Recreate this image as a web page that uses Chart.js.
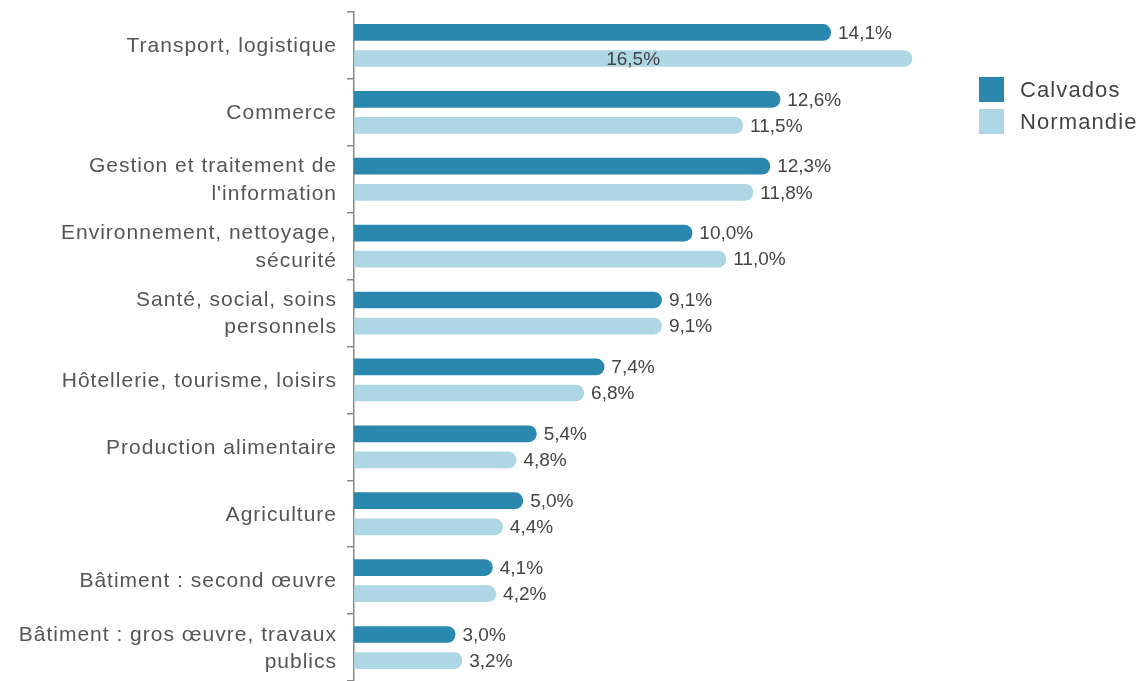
<!DOCTYPE html>
<html>
<head>
<meta charset="utf-8">
<script src="https://cdn.jsdelivr.net/npm/chart.js@4"></script>
<style>
  html, body { margin: 0; padding: 0; background: #fff; }
  #wrap { position: relative; width: 1141px; height: 681px; overflow: hidden; }
  #chart { position: absolute; left: 0; top: 0; }
  .legend { position: absolute; left: 979px; top: 77px; font: 22px "Liberation Sans", Arial, sans-serif; color: #444; letter-spacing: 1.1px; }
  .legend div { position: relative; height: 32px; line-height: 25px; padding-left: 41px; }
  .legend span { position: absolute; left: 0; top: 0; width: 25px; height: 25px; }
</style>
</head>
<body>
<div id="wrap">
  <canvas id="chart" width="1141" height="681"></canvas>
  <div class="legend" id="legend"></div>
</div>
<script>
const categories = [
  "Transport, logistique",
  "Commerce",
  [ "Gestion et traitement de", "l'information" ],
  [ "Environnement, nettoyage,", "sécurité" ],
  [ "Santé, social, soins", "personnels" ],
  "Hôtellerie, tourisme, loisirs",
  "Production alimentaire",
  "Agriculture",
  "Bâtiment : second œuvre",
  [ "Bâtiment : gros œuvre, travaux", "publics" ]
];
const calvados = [ 14.1, 12.6, 12.3, 10.0, 9.1, 7.4, 5.4, 5.0, 4.1, 3.0 ];
const normandie = [ 16.5, 11.5, 11.8, 11.0, 9.1, 6.8, 4.8, 4.4, 4.2, 3.2 ];
const seriesNames = [ "Calvados", "Normandie" ];
const seriesColors = [ "#2a87ad", "#afd6e5" ];

Chart.defaults.font.family = "'Liberation Sans', Arial, sans-serif";

// letter spacing for the axis labels (canvas state is reset on resize, so set it again before each pass)
let spacing = {
  id: "spacing",
  beforeUpdate: ( chart ) => { chart.ctx.letterSpacing = "1px"; },
  beforeDraw: ( chart ) => { chart.ctx.letterSpacing = "1px"; }
};

// percentage labels at the end of each bar, or centred inside when there is no room
let valueLabels = {
  id: "valueLabels",
  afterDatasetsDraw: ( chart ) => {
    let ctx = chart.ctx;
    ctx.save();
    ctx.letterSpacing = "0px";
    ctx.font = "19px 'Liberation Sans', Arial, sans-serif";
    ctx.fillStyle = "#444";
    ctx.textBaseline = "middle";
    chart.data.datasets.forEach( ( dataset, i ) => {
      chart.getDatasetMeta( i ).data.forEach( ( bar, j ) => {
        let text = dataset.data[ j ].toFixed( 1 ).replace( ".", "," ) + "%";
        let width = ctx.measureText( text ).width;
        if ( bar.x + 7 + width > chart.chartArea.right ) {
          ctx.textAlign = "center";
          ctx.fillText( text, ( bar.base + bar.x ) / 2, bar.y + 1 );
        } else {
          ctx.textAlign = "left";
          ctx.fillText( text, bar.x + 7, bar.y + 1 );
        }
      } );
    } );
    ctx.restore();
  }
};

new Chart( document.getElementById( "chart" ), {
  type: "bar",
  data: {
    labels: categories,
    datasets: [
      { label: seriesNames[ 0 ], data: calvados, backgroundColor: seriesColors[ 0 ] },
      { label: seriesNames[ 1 ], data: normandie, backgroundColor: seriesColors[ 1 ] }
    ]
  },
  options: {
    indexAxis: "y",
    responsive: false,
    animation: false,
    layout: { padding: { top: 12, right: 178, bottom: 0, left: 0 } },
    datasets: {
      bar: {
        categoryPercentage: 0.78,
        barPercentage: 0.64,
        borderRadius: 8,
        borderSkipped: "start"
      }
    },
    plugins: {
      legend: { display: false },
      tooltip: { enabled: false }
    },
    scales: {
      x: {
        display: false,
        min: 0,
        max: 18
      },
      y: {
        afterFit: ( scale ) => {
          scale.width = 354;
          scale.paddingTop = 0;
          scale.paddingBottom = 0;
        },
        grid: {
          offset: true,
          drawOnChartArea: false,
          drawTicks: true,
          tickLength: 7,
          color: "#888",
          lineWidth: 1.5
        },
        border: { display: true, color: "#888", width: 1.5 },
        ticks: {
          padding: 10,
          labelOffset: 1,
          color: "#555",
          font: { size: 21, lineHeight: 1.3 }
        }
      }
    }
  },
  plugins: [ spacing, valueLabels ]
} );

let legend = document.getElementById( "legend" );
seriesNames.forEach( ( name, i ) => {
  let row = document.createElement( "div" );
  row.innerHTML = "<span style='background:" + seriesColors[ i ] + "'></span>" + name;
  legend.appendChild( row );
} );
</script>
</body>
</html>
